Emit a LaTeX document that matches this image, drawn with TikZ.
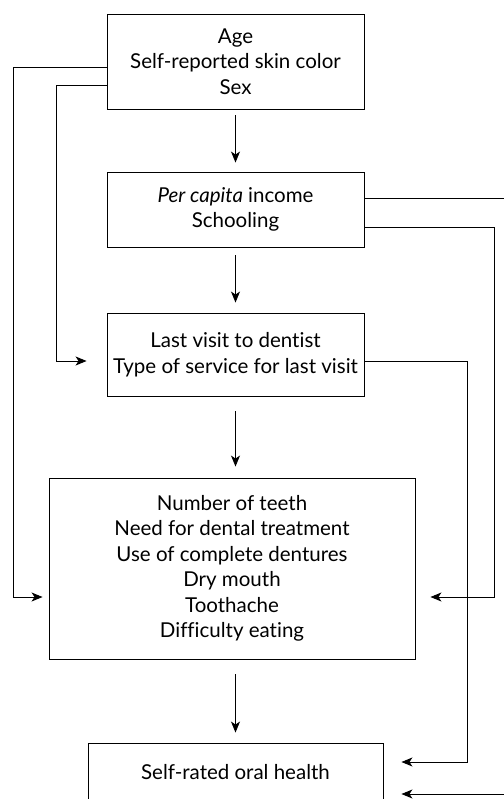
\documentclass[tikz,border=0pt]{standalone}
\usepackage{fontspec}
\setmainfont[Ligatures=NoCommon]{Lato}
\usepackage{tikz}
\usetikzlibrary{calc,arrows.meta,positioning}

\begin{document}
\begin{tikzpicture}[x=1pt, y=1pt, line width=0.9pt, >={Stealth[length=11pt,width=9pt,inset=3pt]},
    box/.style={draw, align=center, inner sep=0pt, font=\fontsize{20.5}{25.5}\selectfont}]
    \useasboundingbox (0,0) rectangle (503,-799);
    % boxes
    \node[box, minimum width=257pt, minimum height=95pt] (demog) at (235.5,-61.5) {Age\\Self-reported skin color\\Sex};
    \node[box, minimum width=257pt, minimum height=75pt] (socio) at (235.5,-209.5) {\textit{Per capita} income\\Schooling};
    \node[box, minimum width=257pt, minimum height=83pt] (visit) at (235.5,-354.5) {Last visit to dentist\\Type of service for last visit};
    \node[box, minimum width=366pt, minimum height=181pt] (cond) at (232,-568.5) {Number of teeth\\Need for dental treatment\\Use of complete dentures\\Dry mouth\\Toothache\\Difficulty eating};
    \node[box, minimum width=295pt, minimum height=58pt] (srh) at (235.5,-772) {Self-rated oral health};
    % main chain
    \draw[->, shorten <=6pt, shorten >=9pt] (demog.south) -- (socio.north);
    \draw[->, shorten <=8pt, shorten >=10pt] (socio.south) -- (visit.north);
    \draw[->, shorten <=15pt, shorten >=11pt] (visit.south) -- (visit.south |- cond.north);
    \draw[->, shorten <=15pt, shorten >=10pt] (srh.north |- cond.south) -- (srh.north);
    % left side
    \draw[->, shorten >=6pt] ([yshift=-5.5pt]demog.west) -- ++(-93,0) |- ([yshift=-28.5pt]cond.west);
    \draw[->, shorten >=20pt] ([yshift=-23.5pt]demog.west) -- ++(-50,0) |- ([yshift=-6.5pt]visit.west);
    % right side
    \draw[->, shorten >=15pt] ([yshift=-17.5pt]socio.east) -- ++(130,0) |- ([yshift=-28.5pt]cond.east);
    \draw[->, shorten >=18pt] ([yshift=-6.5pt]visit.east) -- ++(103,0) |- ([yshift=10pt]srh.east);
    \draw[->, shorten >=18pt] ([yshift=11.5pt]socio.east) -- ++(160,0) |- ([yshift=-22pt]srh.east);
\end{tikzpicture}
\end{document}
